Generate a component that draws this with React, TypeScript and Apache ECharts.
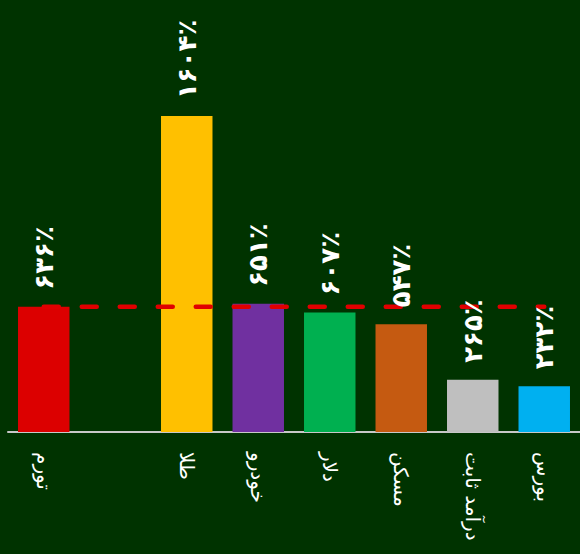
import React, { useEffect, useRef } from "react";
import * as echarts from "echarts";

// Asset classes (index 1 is a spacer between inflation and the assets)
const categories = ["تورم", "", "طلا", "خودرو", "دلار", "مسکن", "درآمد ثابت", "بورس"];
// Cumulative return, percent
const returns: (number | null)[] = [636, null, 1604, 651, 607, 547, 265, 232];
const barColors = ["#DC0000", "#003300", "#FFC000", "#7030A0", "#00B050", "#C55A11", "#BFBFBF", "#00B0F0"];
// Inflation benchmark drawn as a dashed reference line
const inflationLevel = returns[0] as number;

const persianDigits = ["۰", "۱", "۲", "۳", "۴", "۵", "۶", "۷", "۸", "۹"];
const toPersian = (n: number) =>
  String(n).replace(/[0-9]/g, (d) => persianDigits[Number(d)]) + "٪";

export default function App() {
  const ref = useRef<HTMLDivElement>(null);

  useEffect(() => {
    if (!ref.current) return;
    const chart = echarts.init(ref.current, undefined, { renderer: "svg" });
    const barData = returns.map((v, i) => ({
      value: v,
      itemStyle: { color: barColors[i] },
    }));
    chart.setOption({
      animation: false,
      backgroundColor: "#003300",
      grid: { left: 8, top: 38, width: 576, height: 394, containLabel: false },
      xAxis: {
        type: "category",
        data: categories,
        axisTick: { show: false },
        axisLine: { lineStyle: { color: "#C8C8C8", width: 2 } },
        axisLabel: {
          rotate: -90,
          interval: 0,
          margin: 20,
          color: "#FFFFFF",
          fontSize: 20,
          fontFamily: "DejaVu Sans",
        },
      },
      yAxis: { type: "value", min: 0, max: 2000, show: false },
      series: [
        {
          type: "bar",
          z: 1,
          data: barData,
          barCategoryGap: "28%",
        },
        {
          type: "line",
          z: 2,
          data: categories.map(() => inflationLevel),
          symbol: "none",
          lineStyle: { color: "#E00000", width: 4.5, type: [15, 23], cap: "round" },
        },
        {
          type: "bar",
          z: 3,
          barGap: "-100%",
          barCategoryGap: "28%",
          data: returns,
          itemStyle: { color: "rgba(0,0,0,0)" },
          label: {
            show: true,
            position: "top",
            rotate: 90,
            align: "left",
            verticalAlign: "middle",
            distance: 17,
            color: "#FFFFFF",
            fontSize: 26,
            fontWeight: "bold",
            fontFamily: "DejaVu Sans",
            formatter: (p: any) => (p.value == null ? "" : toPersian(p.value)),
          },
        },
      ],
    });
    return () => chart.dispose();
  }, []);

  return (
    <div
      ref={ref}
      style={{ position: "fixed", left: 0, top: 0, width: 580, height: 554, overflow: "hidden" }}
    />
  );
}
